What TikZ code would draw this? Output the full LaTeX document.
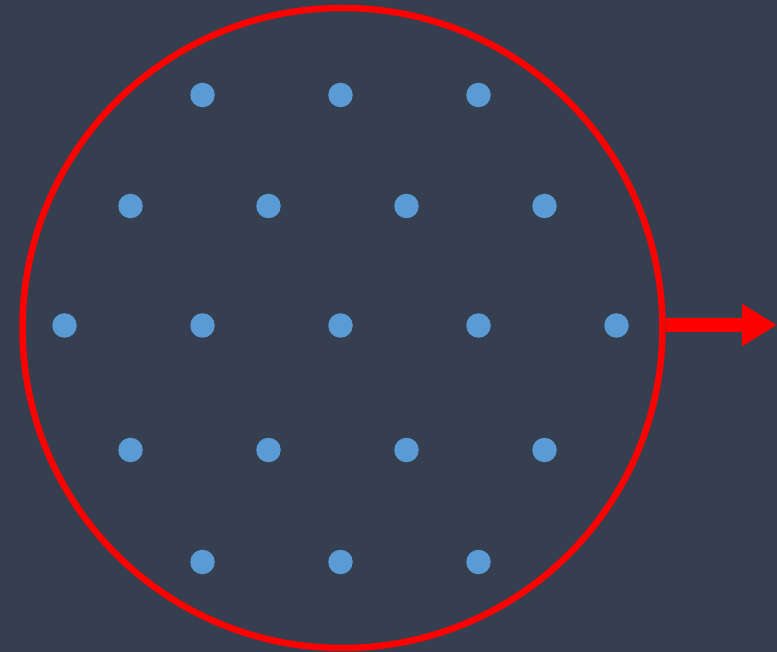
\documentclass[tikz,border=0pt]{standalone}
\usetikzlibrary{arrows.meta}
\definecolor{bg}{HTML}{353F50}
\definecolor{dotc}{HTML}{5B9BD5}
\definecolor{redc}{HTML}{FF0000}
\begin{document}
\begin{tikzpicture}[x=1pt,y=-1pt,
  dotn/.style={circle,fill=dotc,inner sep=0pt,minimum size=24.5pt},
  ring/.style={circle,draw=redc,line width=6.5pt,inner sep=0pt,minimum size=640pt},
  outarrow/.style={draw=redc,line width=14pt,-{Triangle[length=35pt,width=40pt]}}]
\fill[bg] (0,0) rectangle (777,652);
\useasboundingbox (0,0) rectangle (777,652);
\node[ring] (c) at (342.5,328) {};
\foreach \x [count=\i] in {202.5,340.5,478.5} {
  \node[dotn] (a\i) at (\x,95) {};
  \node[dotn] (e\i) at (\x,562) {};
}
\foreach \x [count=\i] in {130.5,268.5,406.5,544.5} {
  \node[dotn] (b\i) at (\x,206) {};
  \node[dotn] (d\i) at (\x,450) {};
}
\foreach \x [count=\i] in {64.5,202.5,340.5,478.5,616.5} {
  \node[dotn] (m\i) at (\x,325.5) {};
}
\coordinate (tip) at (777,325);
\draw[outarrow] (c.east |- tip) -- (tip);
\end{tikzpicture}
\end{document}
